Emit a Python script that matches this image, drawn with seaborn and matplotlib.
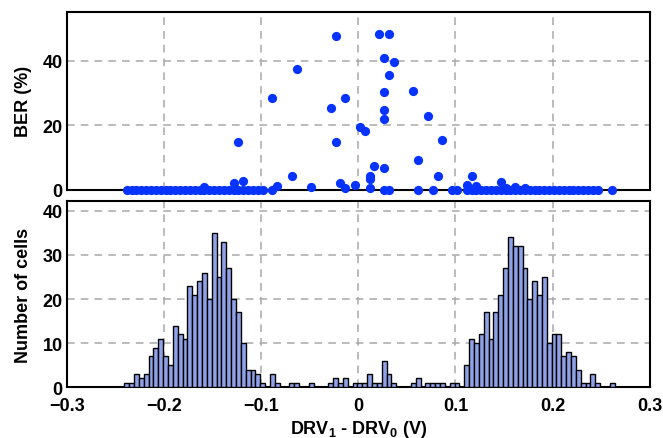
import numpy as np
import pandas as pd
import matplotlib
matplotlib.use('Agg')
import matplotlib.pyplot as plt
import seaborn as sns

# histogram: 5 mV bins, counts
bin_start = -0.241
bin_width = 0.005
cell_counts = [1, 1, 3, 2, 3, 7, 9, 11, 7, 5, 14, 12, 11, 23, 21, 24, 26, 20, 35, 25,
               33, 27, 20, 17, 10, 4, 4, 3, 1, 0, 3, 1, 0, 0, 1, 1, 0, 0, 1, 0,
               0, 0, 1, 2, 1, 2, 0, 1, 1, 1, 3, 1, 1, 6, 3, 1, 0, 0, 0, 1,
               2, 0, 1, 1, 1, 1, 0, 1, 1, 0, 5, 11, 10, 12, 17, 11, 17, 21, 27, 34,
               32, 32, 27, 20, 24, 21, 25, 10, 12, 12, 7, 8, 7, 4, 1, 1, 3, 1, 0, 0, 1]

# cells with BER above zero (plus the zero ones in the middle)
ber_x = [-0.1585, -0.1285, -0.1235, -0.1185, -0.0885, -0.0885, -0.0835, -0.0685, -0.0635,
         -0.0485, -0.0285, -0.0235, -0.0235, -0.0185, -0.0135, -0.0135, -0.0035, 0.0015,
         0.0065, 0.0115, 0.0115, 0.0115, 0.0165, 0.0215,
         0.0265, 0.0265, 0.0265, 0.0265, 0.0265, 0.0265, 0.0315, 0.0315, 0.0315, 0.0365,
         0.0565, 0.0615, 0.0615, 0.0715, 0.0765, 0.0815, 0.0865, 0.0965, 0.1015,
         0.1115, 0.1165, 0.1215, 0.1465, 0.1515, 0.1615, 0.1715]
ber_y = [0.7, 1.9, 14.6, 2.7, 28.4, 0.0, 1.2, 4.1, 37.4,
         0.9, 25.2, 47.7, 14.7, 1.9, 28.5, 0.4, 1.3, 19.3,
         18.3, 4.3, 3.2, 0.6, 7.4, 48.2,
         40.7, 30.2, 24.7, 22.0, 6.6, 0.0, 48.2, 35.5, 0.0, 39.7,
         30.5, 9.1, 0.0, 22.9, 0.0, 4.2, 15.4, 0.0, 0.0,
         1.5, 4.2, 1.0, 2.2, 0.5, 0.8, 0.4]

# tail cells, all at BER = 0
zero_x = [-0.2385, -0.2335, -0.2285, -0.2235, -0.2185, -0.2135, -0.2085, -0.2035, -0.1985,
          -0.1935, -0.1885, -0.1835, -0.1785, -0.1735, -0.1685, -0.1635, -0.1585, -0.1535,
          -0.1485, -0.1435, -0.1385, -0.1335, -0.1285, -0.1235, -0.1185, -0.1135, -0.1085,
          -0.1035, -0.0985,
          0.1115, 0.1165, 0.1215, 0.1265, 0.1315, 0.1365, 0.1415, 0.1465, 0.1515, 0.1565,
          0.1615, 0.1665, 0.1715, 0.1765, 0.1815, 0.1865, 0.1915, 0.1965, 0.2015, 0.2065,
          0.2115, 0.2165, 0.2215, 0.2265, 0.2315, 0.2365, 0.2415, 0.2465, 0.2615]

x_ticks = [-0.3, -0.2, -0.1, 0, 0.1, 0.2, 0.3]
x_tick_labels = ['\u22120.3', '\u22120.2', '\u22120.1', '0', '0.1', '0.2', '0.3']

sns.set_theme(style='white')
plt.rcParams['font.family'] = ['Liberation Sans', 'DejaVu Sans']
plt.rcParams['font.weight'] = 'bold'
plt.rcParams['mathtext.fontset'] = 'custom'
plt.rcParams['mathtext.rm'] = 'Liberation Sans:bold'
plt.rcParams['mathtext.bf'] = 'Liberation Sans:bold'
for key in ('text.color', 'axes.labelcolor', 'xtick.color', 'ytick.color'):
    plt.rcParams[key] = 'black'

edges = [bin_start + bin_width * k for k in range(len(cell_counts) + 1)]
hist_df = pd.DataFrame({'drv': [e + bin_width / 2 for e in edges[:-1]],
                        'count': cell_counts})

fig = plt.figure(figsize=(6.63, 4.39), dpi=100)
ax1 = fig.add_axes([0.101, 0.566, 0.879, 0.404])
ax2 = fig.add_axes([0.101, 0.1155, 0.879, 0.425])

scat_df = pd.DataFrame({'drv': ber_x + zero_x,
                        'ber': ber_y + [0.0] * len(zero_x)})
sns.scatterplot(data=scat_df, x='drv', y='ber', ax=ax1, color='#0633ff', s=44,
                linewidth=0, clip_on=False, zorder=3)

sns.histplot(data=hist_df, x='drv', weights='count', bins=edges, ax=ax2,
             color='#8fa2e8', edgecolor='black', linewidth=1.0, alpha=1.0, zorder=3)

for ax in (ax1, ax2):
    ax.set_xlim(-0.3, 0.3)
    ax.set_xticks(x_ticks)
    ax.grid(True, color='#a8a8a8', linestyle=(0, (5, 4)), linewidth=1.1)
    ax.set_axisbelow(True)
    ax.tick_params(length=0, labelsize=13, colors='black')
    for sp in ax.spines.values():
        sp.set_color('black')
        sp.set_linewidth(1.5)
    for lab in ax.get_xticklabels() + ax.get_yticklabels():
        lab.set_fontweight('bold')

ax1.tick_params(axis='y', pad=3)
ax2.tick_params(axis='y', pad=3)
ax2.tick_params(axis='x', pad=7)

ax1.set_ylim(0, 55)
ax1.set_yticks([0, 20, 40])
ax1.set_xticklabels([])
ax1.set_xlabel('')
ax1.set_ylabel('BER (%)', fontsize=13, fontweight='bold', labelpad=8)

ax2.set_ylim(0, 42.3)
ax2.set_yticks([0, 10, 20, 30, 40])
ax2.set_xticklabels(x_tick_labels, fontweight='bold')
ax2.set_ylabel('Number of cells', fontsize=13, fontweight='bold', labelpad=8)
ax2.set_xlabel('DRV$_1$ - DRV$_0$ (V)', fontsize=13, fontweight='bold', labelpad=3)

fig.savefig('out.png', dpi=100)
